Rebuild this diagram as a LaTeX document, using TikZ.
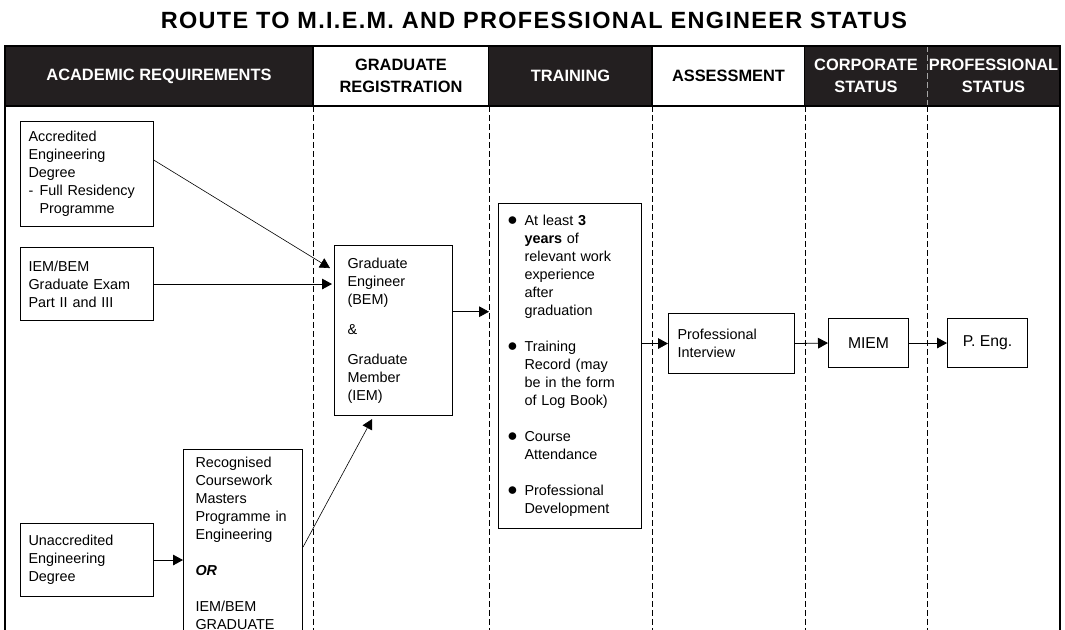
\documentclass[tikz,border=0pt]{standalone}
\usepackage{fontspec}
\setmainfont{Liberation Sans}
\newfontfamily\titlefont[LetterSpace=5.6]{Liberation Sans}
\usepackage{xcolor}
\usepackage{graphicx}
\definecolor{headdark}{RGB}{35, 31, 32}
\usetikzlibrary{arrows.meta,positioning,calc}
\newlength{\pxu}\setlength{\pxu}{0.75pt}
\newcommand{\tbull}{\makebox[17\pxu][l]{\raisebox{0.05ex}{\scalebox{1.35}{$\bullet$}}}}
\newcommand{\tpad}{\hspace*{17\pxu}}

\begin{document}
\begin{tikzpicture}[
  x=0.75pt, y=-0.75pt,
  every node/.style={font=\fontsize{10.8}{13.5}\selectfont},
  box/.style={draw, line width=0.8pt, anchor=north west, align=left, inner xsep=8\pxu, inner ysep=4\pxu},
  hcell/.style={minimum height=60\pxu, inner sep=0pt, outer sep=0pt, align=center, font=\fontsize{12.3}{16.5}\selectfont\bfseries},
  hdark/.style={hcell, fill=headdark, text=white},
  hlight/.style={hcell, fill=white, draw, line width=0.8pt},
  flow/.style={-{Triangle[length=7.5pt,width=8pt]}, line width=0.6pt},
  lane/.style={dash pattern=on 6\pxu off 3\pxu, line width=0.6pt}
]
\useasboundingbox (0,0) rectangle (1065,630);
\clip (0,0) rectangle (1065,630);
\coordinate (bot) at (0,640);

\node[font=\titlefont\bfseries\fontsize{17.6}{20}\selectfont] (title) at (534,20) {ROUTE TO M.I.E.M. AND PROFESSIONAL ENGINEER STATUS};

% header row
\node[hdark, minimum width=308\pxu, anchor=north west] (hacad) at (5,46) {ACADEMIC REQUIREMENTS};
\node[hlight, minimum width=176\pxu, right=0pt of hacad] (hgrad) {GRADUATE\\REGISTRATION};
\node[hdark, minimum width=163\pxu, right=0pt of hgrad] (htrain) {TRAINING};
\node[hlight, minimum width=153\pxu, right=0pt of htrain] (hassess) {ASSESSMENT};
\node[hdark, minimum width=122\pxu, right=0pt of hassess] (hcorp) {CORPORATE\\STATUS};
\node[hdark, minimum width=133\pxu, right=0pt of hcorp] (hprof) {PROFESSIONAL\\STATUS};
\draw[lane, gray!70] (hprof.north west) -- (hprof.south west);

\draw[line width=0.8pt] (hacad.south west |- bot) -- (hacad.north west) -- (hprof.north east) -- (hprof.north east |- bot);
\draw[line width=0.8pt] (hacad.south west) -- (hprof.south east);
\foreach \col in {hgrad,htrain,hassess,hcorp,hprof}
  \draw[lane] (\col.south west) -- (\col.south west |- bot);

% boxes
\node[box, minimum width=133\pxu, minimum height=105\pxu, text width=117\pxu] (accr) at (20,121)
  {Accredited\\Engineering\\Degree\\\makebox[11\pxu][l]{-}Full Residency\\\hspace*{11\pxu}Programme};
\node[box, minimum width=133\pxu, minimum height=73\pxu, text width=117\pxu] (exam) at (20,247)
  {IEM/BEM\\Graduate Exam\\Part II and III};
\node[box, minimum width=133\pxu, minimum height=73\pxu, text width=117\pxu] (unacc) at (20,523)
  {Unaccredited\\Engineering\\Degree};
\node[box, inner xsep=12\pxu, inner ysep=8\pxu, minimum width=119\pxu, text width=95\pxu] (mast) at (183,449)
  {Recognised\\Coursework\\Masters\\Programme in\\Engineering\\[13.5pt]\textbf{\textit{OR}}\\[13.5pt]IEM/BEM\\GRADUATE};
\node[box, inner xsep=13\pxu, minimum width=118\pxu, minimum height=170\pxu, text width=92\pxu] (grad) at (334,245)
  {Graduate\\Engineer\\(BEM)\\[9pt]\&\\[9pt]Graduate\\Member\\(IEM)};
\node[box, inner xsep=9\pxu, minimum width=143\pxu, minimum height=325\pxu, text width=125\pxu] (train) at (498,203)
  {\tbull At least \textbf{3}\\\tpad\textbf{years} of\\\tpad relevant work\\\tpad experience\\\tpad after\\\tpad graduation\\[13.5pt]
   \tbull Training\\\tpad Record (may\\\tpad be in the form\\\tpad of Log Book)\\[13.5pt]
   \tbull Course\\\tpad Attendance\\[13.5pt]
   \tbull Professional\\\tpad Development};
\node[box, inner xsep=9\pxu, minimum width=126\pxu, minimum height=60\pxu, text width=108\pxu] (intv) at (668,313)
  {Professional\\Interview};
\node[box, align=center, minimum width=80\pxu, minimum height=49\pxu, font=\fontsize{11.8}{13.5}\selectfont] (miem) at (828,318) {MIEM};
\node[box, align=center, minimum width=80\pxu, minimum height=49\pxu, font=\fontsize{11.8}{13.5}\selectfont] (peng) at (947,318) {P. Eng.};

% connectors
\coordinate (gout) at ($(grad.north east)!0.39!(grad.south east)$);
\draw[flow, line width=0.45pt] ($(accr.north east)!0.37!(accr.south east)$) -- ($(grad.north west)!0.135!(grad.south west)+(-4,0)$);
\draw[flow] (exam.east) -- ($(exam.east -| grad.west)+(-2,0)$);
\draw[flow] (unacc.east) -- (unacc.east -| mast.west);
\draw[flow, line width=0.45pt] ($(mast.north east)+(0,98)$) -- ($(grad.south west)!0.32!(grad.south east)+(0,3)$);
\draw[flow] (gout) -- (gout -| htrain.south west);
\draw[flow] (intv.west -| train.east) -- (intv.west);
\draw[flow] (intv.east) -- (miem.west);
\draw[flow] (miem.east) -- (peng.west);
\end{tikzpicture}
\end{document}
